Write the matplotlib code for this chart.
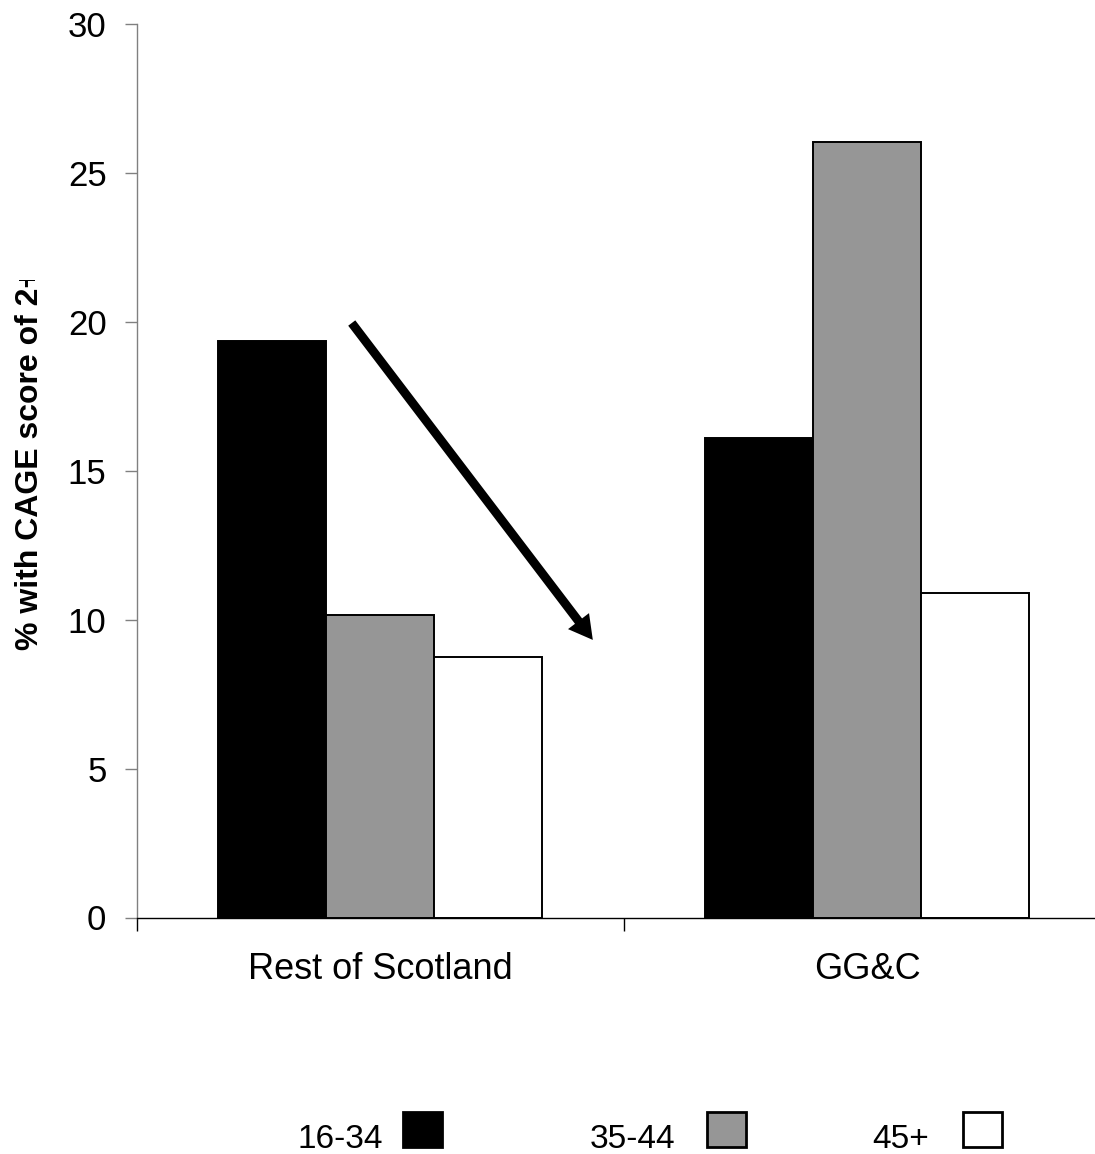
#CAGE score by age group - Rest of Scotland vs GG&C
import matplotlib
matplotlib.use('Agg')
from matplotlib import pyplot as plt
from matplotlib.patches import Rectangle
from matplotlib.transforms import Bbox

plt.rcParams['font.family'] = ['Liberation Sans', 'DejaVu Sans']

#data
areas = ['Rest of Scotland', 'GG&C']
age_groups = ['16-34', '35-44', '45+']
pct_16_34 = [19.35, 16.1]
pct_35_44 = [10.15, 26.05]
pct_45_plus = [8.75, 10.9]
y_ticks = [0, 5, 10, 15, 20, 25, 30]

series = [pct_16_34, pct_35_44, pct_45_plus]
colours = ['black', '#969696', 'white']

W, H = 1095, 1154
fig = plt.figure(figsize=(W / 100, H / 100), dpi=100)
ax = fig.add_axes([136.5 / W, 1 - 917.5 / H, 974 / W, 893.5 / H])

#grouped bars, category i sits at i + 0.5
width = 0.222
for k, (vals, col) in enumerate(zip(series, colours)):
    xs = [i + 0.5 + (k - 1) * width for i in range(len(areas))]
    ax.bar(xs, vals, width, color=col, edgecolor='black', linewidth=1.4,
           label=age_groups[k], zorder=2)

ax.set_xlim(0, 2)
ax.set_ylim(0, 30)

#axis styling
for side in ['top', 'right']:
    ax.spines[side].set_visible(False)
ax.spines['left'].set_color('#808080')
ax.spines['left'].set_linewidth(1.0)
ax.spines['bottom'].set_color('black')
ax.spines['bottom'].set_linewidth(1.0)

ax.set_yticks(y_ticks)
ax.set_yticklabels([str(t) for t in y_ticks])
ax.tick_params(axis='y', direction='out', length=8.6, width=1.0,
               color='#808080', labelsize=25, pad=13)
ax.yaxis.get_major_ticks()[0].tick1line.set_color('black')

ax.set_xticks([0, 1, 2])
ax.set_xticklabels(['', '', ''])
ax.tick_params(axis='x', which='major', direction='out', length=9.4,
               width=1.0, color='black')
ax.xaxis.get_major_ticks()[0].tick1line.set_color('#808080')
ax.set_xticks([0.5, 1.5], minor=True)
ax.set_xticklabels(areas, minor=True)
ax.tick_params(axis='x', which='minor', length=0, labelsize=26, pad=25)

#arrow showing the drop with age
ax.annotate('', xy=(0.937, 9.32), xytext=(0.442, 19.96),
            arrowprops=dict(arrowstyle='simple,head_length=0.85,head_width=0.95,tail_width=0.32',
                            mutation_scale=20, fc='black', ec='none',
                            shrinkA=0, shrinkB=0))

#y label (cut off at the top like the original export)
ylab = fig.text(30 / W, 1 - 650 / H, '% with CAGE score of 2+', rotation=90,
                ha='center', va='bottom', fontsize=23, fontweight='bold')
ylab.set_clip_box(Bbox([[0, 0], [W, H - 280]]))
ylab.set_clip_on(True)

#legend, label then box
leg_text_x = [298, 590, 872]
leg_box_x = [403, 707, 963]
for lab, col, tx, bx in zip(age_groups, colours, leg_text_x, leg_box_x):
    fig.text(tx / W, 1 - 1148 / H, lab, ha='left', va='baseline', fontsize=24)
    fig.add_artist(Rectangle((bx / W, 1 - 1147 / H), 39 / W, 35 / H,
                             transform=fig.transFigure, facecolor=col,
                             edgecolor='black', linewidth=2.0))

plt.savefig('out.png', dpi=100)
